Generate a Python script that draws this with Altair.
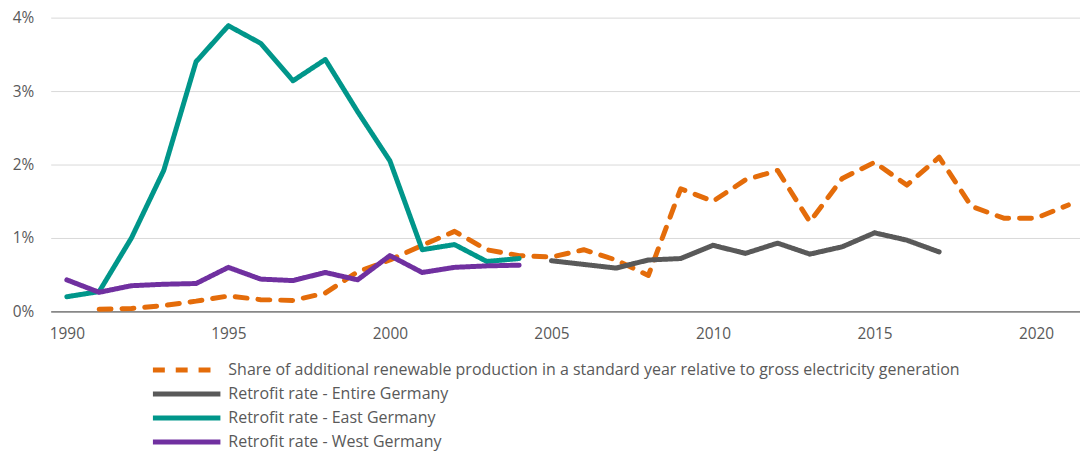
import altair as alt
import pandas as pd

S_REN = "Share of additional renewable production in a standard year relative to gross electricity generation"
S_ALL = "Retrofit rate - Entire Germany"
S_EAST = "Retrofit rate - East Germany"
S_WEST = "Retrofit rate - West Germany"

ren_years = list(range(1991, 2022))
ren_vals = [0.03, 0.04, 0.08, 0.14, 0.21, 0.16, 0.15, 0.25, 0.54, 0.70,
            0.90, 1.09, 0.84, 0.76, 0.74, 0.84, 0.70, 0.49, 1.67, 1.50,
            1.79, 1.92, 1.22, 1.81, 2.03, 1.72, 2.10, 1.43, 1.27, 1.27, 1.45]

all_years = list(range(2005, 2018))
all_vals = [0.69, 0.64, 0.59, 0.70, 0.72, 0.90, 0.79, 0.93, 0.78, 0.88, 1.07, 0.97, 0.81]

east_years = list(range(1990, 2005))
east_vals = [0.20, 0.27, 1.00, 1.92, 3.40, 3.89, 3.65, 3.14, 3.43, 2.72, 2.05, 0.84, 0.91, 0.68, 0.72]

west_years = list(range(1990, 2005))
west_vals = [0.43, 0.26, 0.35, 0.37, 0.38, 0.60, 0.44, 0.42, 0.53, 0.43, 0.76, 0.53, 0.60, 0.62, 0.63]

series_names = [S_REN, S_ALL, S_EAST, S_WEST]
series_colors = ["#E46C0A", "#595959", "#00968A", "#7030A0"]
series_dash = [[12, 11], [1, 0], [1, 0], [1, 0]]

x_ticks = [1990, 1995, 2000, 2005, 2010, 2015, 2020]
y_ticks = [0, 1, 2, 3, 4]

rows = []
for name, ys, vs in [(S_REN, ren_years, ren_vals), (S_ALL, all_years, all_vals),
                     (S_EAST, east_years, east_vals), (S_WEST, west_years, west_vals)]:
    for y, v in zip(ys, vs):
        rows.append({"series": name, "year": y, "value": v})
df = pd.DataFrame(rows)

FONT = "Open Sans"
FS = 15.5
LFS = 16.1
TXT = "#595959"

legend = alt.Legend(title=None)

chart = alt.Chart(df).mark_line(strokeWidth=5, strokeCap="round", strokeJoin="round").encode(
    x=alt.X("year:Q",
            scale=alt.Scale(domain=[1989.5, 2021.36], nice=False, zero=False),
            axis=alt.Axis(values=x_ticks, format="d", title=None, grid=False, ticks=False,
                          domain=True, domainColor="#404040", domainWidth=1,
                          labelPadding=15, labelFontSize=FS, labelFont=FONT, labelColor=TXT)),
    y=alt.Y("value:Q",
            scale=alt.Scale(domain=[0, 4], nice=False),
            axis=alt.Axis(values=y_ticks, labelExpr="datum.value + '%'", title=None,
                          grid=True, gridColor="#D9D9D9", gridWidth=1, ticks=False, domain=False,
                          labelPadding=17, labelFontSize=FS, labelFont=FONT, labelColor=TXT)),
    color=alt.Color("series:N", scale=alt.Scale(domain=series_names, range=series_colors),
                    legend=legend),
    strokeDash=alt.StrokeDash("series:N", scale=alt.Scale(domain=series_names, range=series_dash),
                              legend=legend),
    order=alt.Order("series_order:Q"),
).transform_calculate(
    series_order="indexof(['%s','%s','%s','%s'], datum.series)" % tuple(series_names)
).properties(
    width=1037,
    height=296,
    autosize=alt.AutoSizeParams(type="none"),
    padding={"left": 43, "top": 8, "right": 0, "bottom": 150},
).configure_view(
    stroke=None
).configure_legend(
    orient="none",
    legendX=126,
    legendY=344,
    padding=0,
    symbolType="M-4,0H4",
    symbolSize=289,
    symbolStrokeWidth=5,
    labelOffset=31,
    rowPadding=3.2,
    labelFontSize=LFS,
    labelFont=FONT,
    labelColor=TXT,
    labelLimit=1000,
)

chart.save("out.html", embed_options={"renderer": "svg", "actions": False})
